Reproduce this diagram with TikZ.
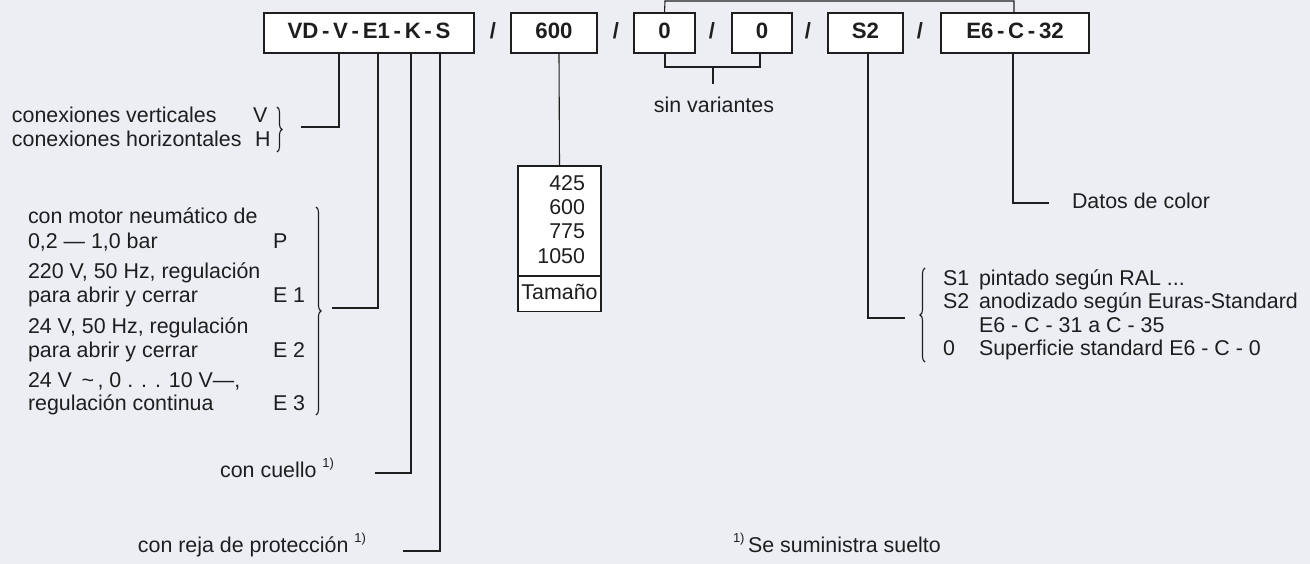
\documentclass[tikz,border=0pt]{standalone}
\usepackage{fontspec}
\setmainfont{Liberation Sans}
\usetikzlibrary{decorations.pathreplacing}
\definecolor{bg}{HTML}{ECEEF4}
\definecolor{ink}{HTML}{1E1E1E}
\begin{document}
\begin{tikzpicture}[x=1pt,y=-1pt,
  every node/.style={inner sep=0pt,outer sep=0pt,text=ink,text height=15.5pt,text depth=4.5pt,font=\fontsize{21.4}{24}\selectfont},
  codebox/.style={draw=ink,fill=white,line width=1.1pt,minimum height=40pt,font=\fontsize{22.2}{24}\selectfont\bfseries},
  slash/.style={font=\fontsize{22}{24}\selectfont\bfseries},
  conn/.style={draw=ink,line width=1.1pt},
  brc/.style={draw=ink,line width=1.1pt,decorate,decoration={brace,amplitude=5pt}},
  lbl/.style={anchor=west}]
\fill[bg] (0,0) rectangle (1310,564);
\useasboundingbox (0,0) rectangle (1310,564);
\newcommand{\fnm}{\raisebox{0.45em}{\fontsize{13}{13}\selectfont 1)}}
% top code boxes
\node[codebox,minimum width=210pt] (vd) at (369,33) {VD\,-\,V\,-\,E1\,-\,K\,-\,S};
\node[slash] (s1) at (493,33) {/};
\node[codebox,minimum width=86pt] (b600) at (554,33) {600};
\node[slash] (s2) at (616,33) {/};
\node[codebox,minimum width=61pt] (z1) at (664.5,33) {0};
\node[slash] (s3) at (712,33) {/};
\node[codebox,minimum width=60pt] (z2) at (762,33) {0};
\node[slash] (s4) at (808,33) {/};
\node[codebox,minimum width=75pt] (bs2) at (865.5,33) {S2};
\node[slash] (s5) at (920,33) {/};
\node[codebox,minimum width=148pt] (be6) at (1015,33) {E6\,-\,C\,-\,32};
% top bracket over 0 ... E6
\draw[conn] (z1.north) -- (665,1) -- (1014,1) -- (1014,13);
% sin variantes
\coordinate (zz) at (713,67);
\draw[conn] (665,53) -- (665,67) -- (760,67) -- (760,53);
\node (sinv) at (714,107) {sin variantes};
\draw[conn] (zz) -- (713,84);
% connexions V/H
\node[lbl] (cv) at (12,117) {conexiones verticales};
\node[lbl] (cvV) at (253,117) {V};
\node[lbl] (ch) at (12,141) {conexiones horizontales};
\node[lbl] (chH) at (255,141) {H};
\draw[brc] (277,107) -- (277,152);
\coordinate (cvh) at (301,127);
\draw[conn] (339,53) -- (339,127) -- (cvh);
% motor options
\node[lbl] (m1) at (28,218) {con motor neumático de};
\node[lbl] (m2) at (28,243) {0,2 — 1,0 bar};
\node[lbl] (mP) at (273,243) {P};
\node[lbl] (m3) at (28,273) {220 V, 50 Hz, regulación};
\node[lbl] (m4) at (28,297) {para abrir y cerrar};
\node[lbl] (mE1) at (273,297) {E 1};
\node[lbl] (m5) at (28,328) {24 V, 50 Hz, regulación};
\node[lbl] (m6) at (28,352) {para abrir y cerrar};
\node[lbl] (mE2) at (273,352) {E 2};
\node[lbl] (m7) at (28,382) {24 V \,\textasciitilde\,, 0 . . . 10 V—,};
\node[lbl] (m8) at (28,405) {regulación continua};
\node[lbl] (mE3) at (273,405) {E 3};
\draw[brc] (316,207) -- (316,415);
\coordinate (mot) at (332,308);
\draw[conn] (378,53) -- (378,308) -- (mot);
% con cuello
\node[anchor=east] (cue) at (334,472) {con cuello \fnm};
\coordinate (cuec) at (375,473);
\draw[conn] (411,53) -- (411,473) -- (cuec);
% con reja
\node[anchor=east] (rej) at (366,547) {con reja de protección \fnm};
\coordinate (rejc) at (403,551);
\draw[conn] (440,53) -- (440,551) -- (rejc);
% size table
\node[draw=ink,fill=white,line width=1.1pt,minimum width=83pt,minimum height=110pt] (tab) at (559.5,221) {};
\node[draw=ink,fill=white,line width=1.1pt,minimum width=83pt,minimum height=35pt] (tam) at (559.5,294) {Tamaño};
\draw[ink,line width=2.6pt] (tab.south west) -- (tab.south east);
\node[anchor=east] (t1) at (585,185) {425};
\node[anchor=east] (t2) at (585,209) {600};
\node[anchor=east] (t3) at (585,233) {775};
\node[anchor=east] (t4) at (585,258) {1050};
\draw[conn] (559,53) -- (tab.north);
% surface
\node[lbl] (r1a) at (943,280) {S1};
\node[lbl] (r1b) at (979,280) {pintado según RAL ...};
\node[lbl] (r2a) at (943,303) {S2};
\node[lbl] (r2b) at (979,303) {anodizado según Euras-Standard};
\node[lbl] (r3b) at (979,327) {E6 - C - 31 a C - 35};
\node[lbl] (r4a) at (943,350) {0};
\node[lbl] (r4b) at (979,350) {Superficie standard E6 - C - 0};
\draw[brc] (925,362) -- (925,268);
\coordinate (surf) at (905,318);
\draw[conn] (868,53) -- (868,318) -- (surf);
% color
\node[lbl] (col) at (1072,203) {Datos de color};
\draw[conn] (1013,53) -- (1013,203) -- (1049,203);
% footnote
\node[lbl] (fn) at (733,547) {\fnm\,Se suministra suelto};
\end{tikzpicture}
\end{document}
